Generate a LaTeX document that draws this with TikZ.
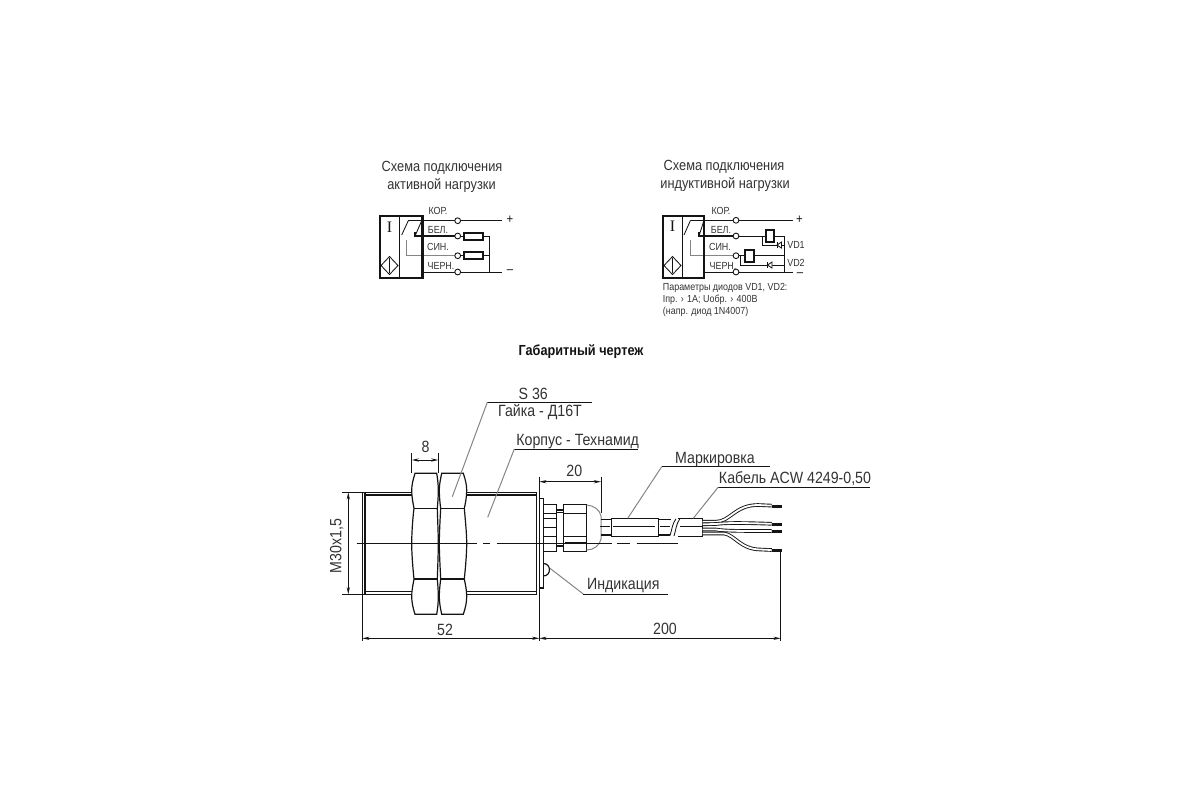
\documentclass[tikz,border=0pt]{standalone}
\usepackage{fontspec}
\setmainfont[FakeStretch=0.87]{Liberation Sans}
\newfontfamily\serifI{Liberation Serif}
\usetikzlibrary{arrows.meta}
\definecolor{ink}{HTML}{141414}
\definecolor{txt}{HTML}{333333}
\definecolor{lead}{HTML}{858585}
\tikzset{
  x=0.5pt,y=-0.5pt,
  ln/.style={draw=ink,line width=0.6pt},
  hv/.style={draw=ink,line width=1.05pt},
  thin1/.style={draw=ink,line width=0.42pt},
  gr/.style={draw=lead,line width=0.5pt},
  axisln/.style={draw=ink,line width=0.5pt},
  dim/.style={draw=ink,line width=0.45pt,{Stealth[length=3.6pt,width=1.6pt]}-{Stealth[length=3.6pt,width=1.6pt]}},
  ext/.style={draw=ink,line width=0.45pt},
  term/.style={circle,draw=ink,line width=0.45pt,fill=white,inner sep=0pt,minimum size=2.9pt},
  res/.style={draw=ink,line width=0.9pt,fill=white},
  ttl/.style={inner sep=0pt,text=txt,font=\fontsize{7.35pt}{8pt}\selectfont},
  lab/.style={inner sep=0pt,text=txt,font=\fontsize{5.15pt}{5pt}\selectfont},
  par/.style={inner sep=0pt,anchor=west,text=txt,font=\fontsize{5.13pt}{5pt}\selectfont},
  big/.style={inner sep=0pt,text=txt,font=\fontsize{8.15pt}{9pt}\selectfont},
  sgn/.style={inner sep=0pt,text=ink,font=\fontsize{6.5pt}{7pt}\selectfont},
  tip/.style={draw=ink,line width=1.5pt},
  wire/.style={draw=ink,line width=0.45pt,double=white,double distance=0.9pt},
}
\begin{document}
\begin{tikzpicture}
\useasboundingbox (0,0) rectangle (1200,800);
\fill[white] (0,0) rectangle (1200,800);

% ---------- left schematic
\node[ttl] (t1a) at (442,168) {Схема подключения};
\node[ttl] (t1b) at (441.5,185.5) {активной нагрузки};
\draw[gr] (406.7,240) -- (406.7,255.7) -- (457.7,255.7);
\draw[thin1] (422,220.7) -- (501.7,220.7);
\draw[thin1] (422,272) -- (501.7,272);
\draw[ln] (415,232) -- (415,236) -- (457.7,236);
\draw[thin1] (457.7,236) -- (489,236) -- (489,272);
\draw[thin1] (457.7,255.7) -- (489,255.7);
\draw[thin1] (408.3,220.7) -- (401.7,235);
\draw[thin1] (408.3,220.7) -- (422,220.7);
\draw[thin1] (421.7,220.7) -- (415,236);
\draw[hv] (379.7,215.7) rectangle (422.5,277.7);
\draw[thin1] (399,215.7) -- (399,277.7);
\node[term] (a1) at (457.7,220.7) {};
\node[term] (a2) at (457.7,236) {};
\node[term] (a3) at (457.7,255.7) {};
\node[term] (a4) at (457.7,272) {};
\draw[res] (464,233) rectangle (482.7,240);
\draw[res] (464,252.2) rectangle (482.7,259.2);
\draw[thin1] (389.5,256.5) -- (398,265.5) -- (389.5,274.5) -- (381,265.5) -- cycle;
\draw[thin1] (389.5,258) -- (389.5,273);
\node[inner sep=0pt,text=ink,font=\serifI\fontsize{8pt}{9pt}\selectfont] (i1) at (389.5,227) {I};
\node[lab] (l1) at (438,211) {КОР.};
\node[lab] (l2) at (438,229.5) {БЕЛ.};
\node[lab] (l3) at (438,247) {СИН.};
\node[lab] (l4) at (441,266) {ЧЕРН.};
\node[sgn] (p1) at (510,220) {+};
\node[sgn] (m1) at (510,272) {–};

% ---------- right schematic
\node[ttl] (t2a) at (724,167) {Схема подключения};
\node[ttl] (t2b) at (725,184.5) {индуктивной нагрузки};
\draw[gr] (690.7,240) -- (690.7,255.7) -- (736,255.7);
\draw[thin1] (704,220.3) -- (792.7,220.3);
\draw[thin1] (704,272) -- (792.7,272);
\draw[ln] (699,232) -- (699,236) -- (736,236);
\draw[thin1] (736,236) -- (784.3,236) -- (784.3,272);
\draw[thin1] (762.7,236) -- (762.7,245) -- (784.3,245);
\draw[thin1] (736,255.7) -- (784.3,255.7);
\draw[thin1] (740.7,255.7) -- (740.7,265) -- (784.3,265);
\draw[thin1] (690.5,220.3) -- (684,235);
\draw[thin1] (690.5,220.3) -- (704,220.3);
\draw[thin1] (704,220.3) -- (699,236);
\draw[hv] (662.7,215.7) rectangle (704.3,277.7);
\draw[thin1] (682.3,215.7) -- (682.3,277.7);
\node[term] (b1) at (736,220.3) {};
\node[term] (b2) at (736,236) {};
\node[term] (b3) at (736,255.7) {};
\node[term] (b4) at (736,272) {};
\draw[res] (766,230) rectangle (774,241.7);
\draw[res] (745,250) rectangle (754,262.3);
\draw[thin1,fill=white] (781.5,242) -- (781.5,248) -- (777,245) -- cycle;
\draw[thin1] (777,242) -- (777,248);
\draw[thin1,fill=white] (772,262) -- (772,268) -- (767.5,265) -- cycle;
\draw[thin1] (767.5,262) -- (767.5,268);
\draw[thin1] (672.5,256.5) -- (681,265.5) -- (672.5,274.5) -- (664,265.5) -- cycle;
\draw[thin1] (672.5,258) -- (672.5,273);
\node[inner sep=0pt,text=ink,font=\serifI\fontsize{8pt}{9pt}\selectfont] (i2) at (672.5,226.5) {I};
\node[lab] (r1) at (721,211) {КОР.};
\node[lab] (r2) at (721,229.5) {БЕЛ.};
\node[lab] (r3) at (720,247) {СИН.};
\node[lab] (r4) at (723,266) {ЧЕРН.};
\node[lab] (vd1) at (796,245) {VD1};
\node[lab] (vd2) at (796,263) {VD2};
\node[sgn] (p2) at (799.5,220) {+};
\node[sgn] (m2) at (800,274.5) {–};
\node[par] (q1) at (662.5,287.7) {Параметры диодов VD1, VD2:};
\node[par] (q2) at (662.5,300) {Iпр. › 1А; Uобр. › 400В};
\node[par] (q3) at (662.5,312.3) {(напр. диод 1N4007)};

\node[inner sep=0pt,text=ink,font=\bfseries\fontsize{7.3pt}{8pt}\selectfont] (h) at (581,352) {Габаритный чертеж};

% ---------- outline: body
\draw[ln] (362.3,492.3) -- (362.3,594.3);
\draw[ln] (365,492.3) -- (365,594.3);
\draw[ln] (362.3,492.3) -- (411.7,492.3) (365,495) -- (411.7,495);
\draw[ln] (362.3,594.3) -- (411.7,594.3) (365,591.7) -- (411.7,591.7);
\draw[ln] (466.7,492.3) -- (536.7,492.3) (466.7,495) -- (536.7,495);
\draw[ln] (466.7,594.3) -- (536.7,594.3) (466.7,591.7) -- (536.7,591.7);
\draw[ln] (536.5,492.3) -- (536.5,594.3);
\draw[ln] (539.3,476.7) -- (539.3,641);
\draw[ln] (539.3,498.3) -- (543.3,498.3) -- (543.3,588) -- (539.3,588);
% nuts
\draw[ln,fill=white] (415,473.3) -- (436.7,473.3) .. controls (437.8,480) and (438.3,485) .. (438.3,490) .. controls (438.3,497) and (437.8,503) .. (437.3,508.3)
  .. controls (437.8,525) and (438.3,535) .. (438.3,543.3) .. controls (438.3,552) and (437.8,565) .. (437.3,579)
  .. controls (437.8,585) and (438.3,590) .. (438.3,596.7) .. controls (438.3,602) and (437.8,608) .. (436.7,614.3) -- (415,614.3)
  .. controls (413,608) and (411.7,602) .. (411.7,596.7) .. controls (411.7,590) and (413,585) .. (414,579)
  .. controls (412.5,565) and (411.7,552) .. (411.7,543.3) .. controls (411.7,535) and (412.5,520) .. (414,508.3)
  .. controls (413,503) and (411.7,497) .. (411.7,490) .. controls (411.7,485) and (413,480) .. (415,473.3) -- cycle;
\draw[ln,fill=white] (441.7,473.3) -- (463.3,473.3) .. controls (465.5,480) and (466.7,485) .. (466.7,490) .. controls (466.7,497) and (465.5,503) .. (464.3,508.3)
  .. controls (465.8,525) and (466.7,535) .. (466.7,543.3) .. controls (466.7,552) and (465.8,565) .. (464.3,579)
  .. controls (465.5,585) and (466.7,590) .. (466.7,596.7) .. controls (466.7,602) and (465.5,608) .. (463.3,614.3) -- (441.7,614.3)
  .. controls (440.3,608) and (439.3,602) .. (439.3,596.7) .. controls (439.3,590) and (440,585) .. (440.7,579)
  .. controls (440,565) and (439.3,552) .. (439.3,543.3) .. controls (439.3,535) and (440,520) .. (440.7,508.3)
  .. controls (440,503) and (439.3,497) .. (439.3,490) .. controls (439.3,485) and (440.3,480) .. (441.7,473.3) -- cycle;
\draw[ln] (414,508.3) -- (437.3,508.3) (414,579) -- (437.3,579);
\draw[ln] (440.7,508.3) -- (464.3,508.3) (440.7,579) -- (464.3,579);

% connector
\draw[ln] (543.3,504.3) rectangle (556.7,551.7);
\draw[thin1] (543.3,513.3) -- (556.7,513.3) (543.3,518.3) -- (556.7,518.3) (543.3,527.3) -- (556.7,527.3) (543.3,536.7) -- (556.7,536.7);
\draw[ln] (556.7,510) -- (563.3,510) (556.7,512.5) -- (563.3,512.5) (556.7,543.5) -- (563.3,543.5) (556.7,546) -- (563.3,546);
\draw[ln] (563.3,504.3) rectangle (586.7,551.7);
\draw[thin1] (563.3,513.3) -- (586.7,513.3) (563.3,536.7) -- (586.7,536.7);
\draw[gr] (586.7,505) .. controls (594,505.5) and (600,510) .. (601,516) -- (601,539) .. controls (600,545) and (594,550) .. (586.7,550);
\draw[ln] (601,519.3) -- (611.7,519.3) (601,535) -- (611.7,535);
\draw[ln] (611.7,518.3) rectangle (658.3,536.3);
\draw[ln] (658.3,519.3) -- (671,519.3) (658.3,535) -- (670,535);
\draw[ln] (678,518.3) -- (702.7,518.3) -- (702.7,536.3) -- (678,536.3);
\draw[thin1] (670,535.5) .. controls (672,530) and (672,524) .. (676,518.8);
\draw[thin1] (674,536) .. controls (676,530) and (676,524) .. (680,518.5);
% LED
\draw[ln] (543.3,563.5) .. controls (551.5,563.5) and (551.5,576) .. (543.3,576);
% wires
\draw[wire] (702.7,521.7) -- (716,521.7) .. controls (730,521.7) and (735,505) .. (758,505) -- (771.7,505.6);
\draw[wire] (702.7,524.3) -- (716,524) .. controls (725,523) and (735,522.5) .. (771.7,523.8);
\draw[wire] (702.7,529.5) -- (716,529.5) .. controls (725,531) and (740,531) .. (771.7,531);
\draw[wire] (702.7,533.5) -- (724,533.5) .. controls (735,535) and (740,549) .. (760,549.5) -- (771.7,550);
\draw[tip] (771.5,506) -- (782,506) (771.5,524) -- (782,524) (771.5,531) -- (782,531) (771.5,550) -- (782,550);
% axes
\draw[axisln] (356.7,543.3) -- (476.7,543.3) (483.3,543.3) -- (490,543.3) (496.7,543.3) -- (611.7,543.3) (616.7,543.3) -- (630,543.3) (636.7,543.3) -- (678,543.3);
\draw[hv] (565,543) -- (586.7,543);
\draw[axisln] (600,526.3) -- (610,526.3) (613,526.3) -- (655,526.3) (660,526.3) -- (670,526.3) (680,526.3) -- (702,526.3);

% dimensions
\draw[ext] (411.7,453.3) -- (411.7,473.3) (438.3,453.3) -- (438.3,473.3);
\draw[dim] (411.7,460) -- (438.3,460);
\node[big] (d8) at (425.5,447) {8};
\draw[ext] (341.7,492.3) -- (362.3,492.3) (341.7,594.3) -- (362.3,594.3);
\draw[dim] (348.3,492.3) -- (348.3,594.3);
\node[big,rotate=90] (dm) at (336.7,546) {M30x1,5};
\draw[ext] (362.3,594.3) -- (362.3,641);
\draw[dim] (362.3,638.3) -- (539.3,638.3);
\node[big] (d52) at (445,630) {52};
\draw[ext] (780.7,550) -- (780.7,641);
\draw[dim] (539.3,638.3) -- (780.7,638.3);
\node[big] (d200) at (665,629) {200};
\draw[ext] (601,476.7) -- (601,513);
\draw[dim] (539.3,481.7) -- (601,481.7);
\node[big] (d20) at (574.3,470.7) {20};

% leaders
\draw[thin1] (487.3,402.3) -- (591.7,402.3);
\draw[gr] (487.3,402.3) -- (452.3,496.7);
\node[big] (s36) at (533.3,394) {S 36};
\node[big] (gk) at (540,411.7) {Гайка - Д16Т};
\draw[thin1] (514.3,449) -- (638.3,449);
\draw[gr] (514.3,449) -- (487.7,517.3);
\node[big] (kp) at (577.7,441.7) {Корпус - Технамид};
\draw[thin1] (661.7,466.7) -- (770,466.7);
\draw[gr] (661.7,466.7) -- (627.7,518.3);
\node[big] (mk) at (715,459.3) {Маркировка};
\draw[thin1] (718.3,487) -- (870,487);
\draw[gr] (718.3,487) -- (693.3,518.3);
\node[big] (kb) at (795,479) {Кабель ACW 4249-0,50};
\draw[thin1] (583.3,594) -- (668.3,594);
\draw[gr] (583.3,594) -- (550,568.3);
\node[big] (in) at (623.3,585.7) {Индикация};
\end{tikzpicture}
\end{document}
